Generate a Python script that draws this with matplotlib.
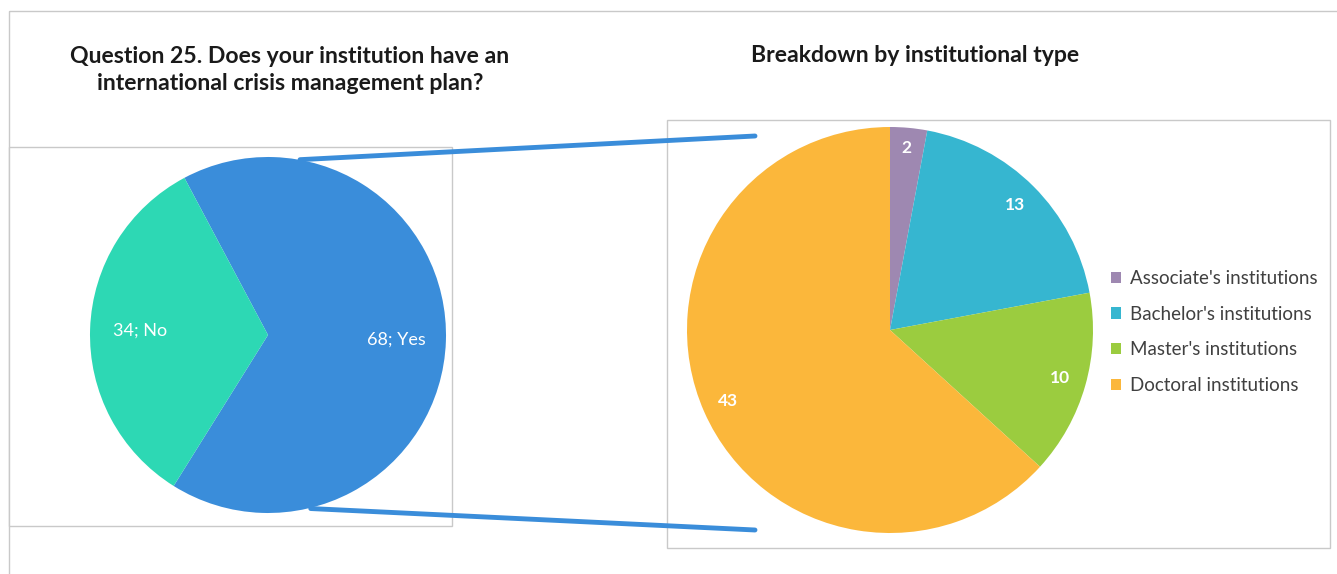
import numpy as np
import matplotlib
matplotlib.use("Agg")
import matplotlib.pyplot as plt
from matplotlib.patches import Rectangle, ConnectionPatch

plt.rcParams['font.family'] = ['Lato', 'DejaVu Sans']

# Question 25 answers
answer_labels = ['Yes', 'No']
answer_counts = [68, 34]
answer_colors = ['#3A8DDA', '#2DD8B4']

# "Yes" answers split by institutional type
type_labels = ["Associate's institutions", "Bachelor's institutions",
               "Master's institutions", "Doctoral institutions"]
type_counts = [2, 13, 10, 43]
type_colors = ['#9E88B1', '#36B6D0', '#9BCC3F', '#FBB73B']

W, H = 1337, 574
fig = plt.figure(figsize=(W / 100, H / 100), dpi=100)


def px_axes(left, top, width, height, **kw):
    return fig.add_axes([left / W, 1 - (top + height) / H, width / W, height / H], **kw)


# background layer for frames
bg = px_axes(0, 0, W, H)
bg.set_xlim(0, W)
bg.set_ylim(H, 0)
bg.axis('off')
bg.add_patch(Rectangle((9, 11), W + 10, H, fill=False, edgecolor='#C9C9C9', linewidth=1))
bg.add_patch(Rectangle((9, 147), 443, 379, facecolor='white', edgecolor='#C9C9C9', linewidth=1))
bg.add_patch(Rectangle((667, 120), 663, 428, facecolor='white', edgecolor='#C9C9C9', linewidth=1))

fig.text(290 / W, 1 - 70 / H,
         'Question 25. Does your institution have an\ninternational crisis management plan?',
         ha='center', va='center', fontsize=16.6, fontweight='bold', color='#1A1A1A',
         linespacing=1.38)
fig.text(915 / W, 1 - 55 / H, 'Breakdown by institutional type',
         ha='center', va='center', fontsize=16.6, fontweight='bold', color='#1A1A1A')

# left pie: yes / no
ax1 = px_axes(90, 157, 356, 356)
wedges1, _ = ax1.pie(answer_counts, colors=answer_colors, startangle=118,
                     counterclock=False, radius=1)
ax1.set_xlim(-1, 1)
ax1.set_ylim(-1, 1)
for w, n, lab in zip(wedges1, answer_counts, answer_labels):
    ang = np.deg2rad((w.theta1 + w.theta2) / 2)
    ax1.text(0.72 * np.cos(ang), 0.72 * np.sin(ang), f'{n}; {lab}',
             ha='center', va='center', color='white', fontsize=13)

# right pie: breakdown of "Yes"
ax2 = px_axes(687, 127, 406, 406)
wedges2, _ = ax2.pie(type_counts, colors=type_colors, startangle=90,
                     counterclock=False, radius=1)
ax2.set_xlim(-1, 1)
ax2.set_ylim(-1, 1)
for w, n in zip(wedges2, type_counts):
    ang = np.deg2rad((w.theta1 + w.theta2) / 2)
    r = 0.9 if n < 5 else 0.87
    ax2.text(r * np.cos(ang), r * np.sin(ang), str(n),
             ha='center', va='center', color='white', fontsize=12.5, fontweight='bold')

fig.legend(wedges2, type_labels, loc='upper left',
           bbox_to_anchor=(1094 / W, 1 - 253 / H), frameon=False,
           fontsize=13.5, handlelength=0.55, handleheight=0.55,
           handletextpad=0.45, labelspacing=1.0, labelcolor='#404040')

# connector lines from the "Yes" slice to the breakdown pie
top_start = (0.18, 0.985)
bot_start = (0.24, -0.975)
for start, end in [(top_start, (755, 136)), (bot_start, (755, 530))]:
    con = ConnectionPatch(xyA=start, coordsA=ax1.transData,
                          xyB=end, coordsB=bg.transData,
                          color='#3A8DDA', linewidth=3.5, zorder=5)
    fig.add_artist(con)

fig.savefig('out.png', dpi=100)
